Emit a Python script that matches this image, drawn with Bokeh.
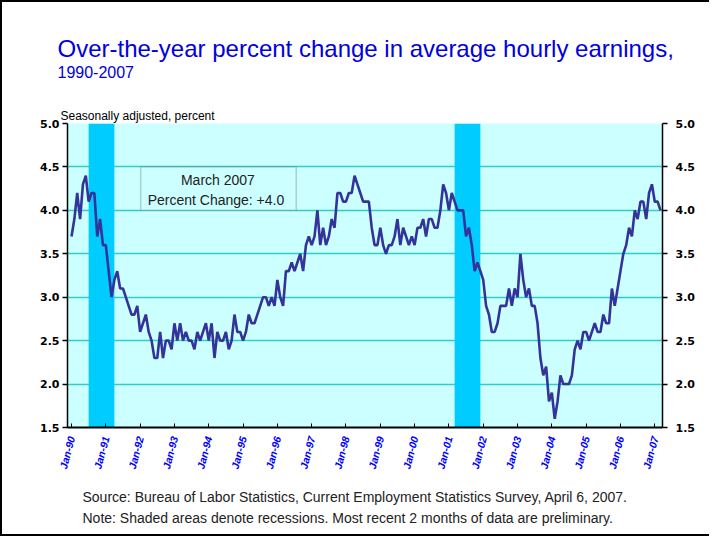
from bokeh.plotting import figure
from bokeh.models import Range1d, LinearAxis, FixedTicker, Label, BoxAnnotation, ColumnDataSource, Title
from bokeh.embed import file_html
from bokeh.resources import INLINE

# ---- data (over-the-year % change, monthly, Jan-1990 .. Mar-2007) ----
start_year = 1990
values = [
    3.7, 3.9, 4.2, 3.9, 4.3, 4.4, 4.1, 4.2, 4.2, 3.7, 3.9, 3.6,   # 1990
    3.6, 3.3, 3.0, 3.2, 3.3, 3.1, 3.1, 3.0, 2.9, 2.8, 2.8, 2.9,   # 1991
    2.6, 2.7, 2.8, 2.6, 2.5, 2.3, 2.3, 2.6, 2.3, 2.5, 2.5, 2.4,   # 1992
    2.7, 2.5, 2.7, 2.5, 2.6, 2.5, 2.5, 2.4, 2.6, 2.5, 2.6, 2.7,   # 1993
    2.5, 2.7, 2.3, 2.6, 2.5, 2.5, 2.6, 2.4, 2.5, 2.8, 2.6, 2.6,   # 1994
    2.5, 2.6, 2.8, 2.7, 2.7, 2.8, 2.9, 3.0, 3.0, 2.9, 3.0, 2.9,   # 1995
    3.2, 3.0, 2.9, 3.3, 3.3, 3.4, 3.3, 3.4, 3.5, 3.3, 3.6, 3.7,   # 1996
    3.6, 3.7, 4.0, 3.6, 3.8, 3.6, 3.7, 3.9, 3.8, 4.2, 4.2, 4.1,   # 1997
    4.1, 4.2, 4.2, 4.4, 4.3, 4.2, 4.1, 4.1, 4.1, 3.8, 3.6, 3.6,   # 1998
    3.8, 3.6, 3.5, 3.6, 3.6, 3.7, 3.9, 3.6, 3.8, 3.7, 3.6, 3.7,   # 1999
    3.6, 3.8, 3.8, 3.9, 3.7, 3.9, 3.9, 3.8, 3.8, 4.0, 4.3, 4.2,   # 2000
    4.0, 4.2, 4.1, 4.0, 4.0, 4.0, 3.7, 3.8, 3.6, 3.3, 3.4, 3.3,   # 2001
    3.2, 2.9, 2.8, 2.6, 2.6, 2.7, 2.9, 2.9, 2.9, 3.1, 2.9, 3.1,   # 2002
    3.0, 3.5, 3.2, 3.0, 3.1, 2.9, 2.9, 2.7, 2.3, 2.1, 2.2, 1.8,   # 2003
    1.9, 1.6, 1.8, 2.1, 2.0, 2.0, 2.0, 2.1, 2.4, 2.5, 2.4, 2.6,   # 2004
    2.6, 2.5, 2.6, 2.7, 2.6, 2.6, 2.8, 2.7, 2.7, 3.1, 2.9, 3.1,   # 2005
    3.3, 3.5, 3.6, 3.8, 3.7, 4.0, 3.9, 4.1, 4.1, 3.9, 4.2, 4.3,   # 2006
    4.1, 4.1, 4.0,                                                # 2007
]
tick_years = ["90", "91", "92", "93", "94", "95", "96", "97", "98",
              "99", "00", "01", "02", "03", "04", "05", "06", "07"]
rec_start = [6, 134]    # Jul-1990, Mar-2001 (months since Jan-1990)
rec_end = [15, 143]     # end of Mar-1991, end of Nov-2001
y_ticks = [1.5, 2.0, 2.5, 3.0, 3.5, 4.0, 4.5, 5.0]

months = list(range(len(values)))
src = ColumnDataSource(dict(m=months, v=values))

W, H = 709, 536
ML, MT, MB, MR = 65, 121, 111, 49
p = figure(width=W, height=H, output_backend="svg", toolbar_location=None,
           x_range=Range1d(-1.4, 206.7), y_range=Range1d(1.5, 5.0),
           min_border_left=ML, min_border_right=MR, min_border_top=MT,
           min_border_bottom=MB)
p.styles = {"border-left": "2px solid black", "border-top": "2px solid black",
            "border-bottom": "2px solid black"}
p.background_fill_color = "#CCFFFF"
p.border_fill_color = "white"
p.outline_line_color = None

# grid
p.xgrid.visible = False
p.ygrid.ticker = FixedTicker(ticks=y_ticks)
p.ygrid.grid_line_color = "#33CCCC"
p.ygrid.grid_line_width = 1.5

# recession bars
p.quad(left=rec_start, right=rec_end, bottom=[1.5] * len(rec_start),
       top=[5.0] * len(rec_start), fill_color="#00CCFF", line_color=None)

# box annotation for latest value
p.add_layout(BoxAnnotation(left=24.2, right=78.6, bottom=4.0, top=4.5,
                           fill_color="#CCFFFF", fill_alpha=1.0,
                           line_color="#5a6a6a", line_width=1.5, level="glyph"))

p.line("m", "v", source=src, line_color="#333399", line_width=2.6)

lbl_font = "Liberation Sans"
p.add_layout(Label(x=51.2, y=4.345, text="March 2007", text_align="center",
                   text_baseline="middle", text_font_size="14px", text_font=lbl_font,
                   text_color="#222222"))
p.add_layout(Label(x=51.2, y=4.125, text="Percent Change:  +4.0", text_align="center",
                   text_baseline="middle", text_font_size="14px", text_font=lbl_font,
                   text_color="#222222"))

# axes
yfont = "DejaVu Sans"
def style_y(ax, standoff):
    ax.ticker = FixedTicker(ticks=y_ticks)
    ax.major_label_overrides = {t: f"{t:.1f}" for t in y_ticks}
    ax.major_label_text_font = yfont
    ax.major_label_text_font_style = "bold"
    ax.major_label_text_font_size = "11px"
    ax.major_label_text_color = "black"
    ax.axis_line_color = "black"
    ax.axis_line_width = 1.5
    ax.major_tick_line_color = "black"
    ax.major_tick_line_width = 1.5
    ax.major_tick_out = 5
    ax.major_tick_in = 0
    ax.minor_tick_line_color = None
    ax.major_label_standoff = standoff

style_y(p.yaxis[0], 3)
ry = LinearAxis()
p.add_layout(ry, "right")
style_y(ry, 8)

xa = p.xaxis[0]
xticks = [12 * i for i in range(len(tick_years))]
xa.ticker = FixedTicker(ticks=xticks)
xa.major_label_overrides = {12 * i: "Jan-" + y for i, y in enumerate(tick_years)}
xa.major_label_orientation = 1.31
xa.major_label_text_font = "Liberation Sans"
xa.major_label_text_font_style = "bold italic"
xa.major_label_text_font_size = "10.5px"
xa.major_label_text_color = "#0000FF"
xa.axis_line_color = "black"
xa.axis_line_width = 2
xa.major_tick_line_color = "black"
xa.major_tick_in = 4
xa.major_tick_out = 0
xa.minor_tick_line_color = None
xa.major_label_standoff = 9

# titles / notes as Title annotations in the side panels
tfont = "Liberation Sans"
p.add_layout(Title(text="Seasonally adjusted, percent", align="left", offset=-7,
                   standoff=2, text_font=tfont, text_font_size="12px",
                   text_font_style="normal", text_color="black"), "above")
p.add_layout(Title(text="1990-2007", align="left", offset=-10, standoff=56,
                   text_font=tfont, text_font_size="16px", text_font_style="normal",
                   text_color="#0000E0"), "above")
p.add_layout(Title(text="Over-the-year percent change in average hourly earnings,",
                   align="left", offset=-10, standoff=-52, text_font=tfont,
                   text_font_size="24px", text_font_style="normal",
                   text_color="#0000E0"), "above")
p.add_layout(Title(text="Source:  Bureau of Labor Statistics, Current Employment Statistics Survey, April 6, 2007.",
                   align="left", offset=15, standoff=24, text_font=tfont,
                   text_font_size="14px", text_font_style="normal",
                   text_color="#222222"), "below")
p.add_layout(Title(text="Note: Shaded areas denote recessions.  Most recent 2 months of data are preliminary.",
                   align="left", offset=15, standoff=-18, text_font=tfont,
                   text_font_size="14px", text_font_style="normal",
                   text_color="#222222"), "below")

open("out.html", "w").write(file_html(p, INLINE))
